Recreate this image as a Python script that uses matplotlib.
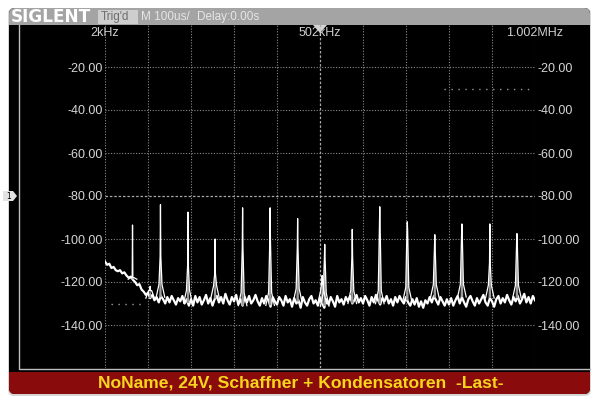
import numpy as np
import matplotlib
matplotlib.use("Agg")
import matplotlib.pyplot as plt
from matplotlib.patches import FancyBboxPatch, Rectangle, Polygon

# FFT trace of the scope, span 2 kHz .. 1.002 MHz, level in dBV
f_start, f_step = 2, 5
floor_db = [
    -110.5, -112, -111.5, -113.5, -113, -114.5, -115, -114.5, -116, -115.5,
    -117, -118, -117.5, -119, -120, -121.5, -121, -123.5, -124.5, -126,
    -125, -127.5, -126, -128.5, -127, -129.5, -126.5, -128, -130, -127,
    -129.5, -126.5, -128.5, -130.5, -127.5, -129, -126.5, -130, -128, -131,
    -128, -131, -126.5, -129.5, -127, -130.5, -128.5, -126, -130, -127.5,
    -131, -128, -126.5, -129.5, -127, -130, -125.5, -128.5, -130.5, -127,
    -129, -126, -130.5, -128, -131, -127, -129.5, -126.5, -130, -128.5,
    -126, -129, -131, -127.5, -130, -126.5, -128.5, -131.5, -127, -129,
    -130.5, -127, -128.5, -131, -126.5, -129.5, -128, -131.5, -127.5, -130,
    -128.5, -132, -127, -129.5, -131, -128, -126.5, -130, -128.5, -131,
    -127.5, -130, -132, -128, -130.5, -127, -129, -131.5, -126.5, -129.5,
    -128, -130.5, -127, -129, -126.5, -130, -128.5, -126, -129.5, -127.5,
    -130, -126.5, -128.5, -131, -127, -129.5, -126, -128.5, -130.5, -127.5,
    -129, -126.5, -130, -128, -131, -127, -129.5, -126.5, -128.5, -130,
    -127, -129.5, -131, -128, -130.5, -127.5, -131.5, -129, -132, -128.5,
    -130, -127, -129.5, -126.5, -128.5, -130.5, -127, -129, -131, -128,
    -130.5, -127.5, -131, -128.5, -126.5, -130, -127, -129.5, -131.5, -128,
    -126.5, -129, -131, -127.5, -130, -128, -126, -129.5, -131, -127.5,
    -129, -131.5, -128, -126.5, -130, -127.5, -129.5, -126, -128.5, -130.5,
    -127, -129, -126.5, -130, -128, -125.5, -129.5, -127, -130, -126.5, -128.5,
]
freq_khz = f_start + f_step * np.arange(len(floor_db))

# switching harmonics
peak_khz = [66, 107, 131, 195, 258, 322, 386, 450, 507, 513, 577, 641, 705, 769, 832, 897, 960]
peak_db = [-93.5, -122, -84, -87.5, -100, -85.5, -85.5, -90.5, -117, -102.5,
           -95.5, -85, -92, -98, -93, -93, -97.5]
skirt_db = [-118, -124, -108, -112, -116, -104, -101, -104, -120, -109,
            -108, -94, -96, -104, -98, -111, -102]

level_ticks = [-20, -40, -60, -80, -100, -120, -140]
freq_labels = [(2, "2kHz"), (502, "502kHz"), (1002, "1.002MHz")]
cursor_lines = [(-130, 16, 92), (-30, 790, 1000)]

W, H = 600, 403
fig = plt.figure(figsize=(W / 100, H / 100), dpi=100)
fig.patch.set_facecolor("white")

# ---- scope frame, drawn in pixel coordinates
bg = fig.add_axes([0, 0, 1, 1], zorder=0)
bg.set_xlim(0, W)
bg.set_ylim(H, 0)
bg.axis("off")

bg.add_patch(FancyBboxPatch((8, 8), 583, 388, boxstyle="round,pad=0,rounding_size=6",
                            fc="#d6d6d6", ec="none"))
bg.add_patch(FancyBboxPatch((9, 8), 581, 386, boxstyle="round,pad=0,rounding_size=6",
                            fc="black", ec="none"))
bg.add_patch(FancyBboxPatch((9, 8), 581, 24, boxstyle="round,pad=0,rounding_size=6",
                            fc="#a4a4a4", ec="none"))
bg.add_patch(FancyBboxPatch((9, 365), 581, 29, boxstyle="round,pad=0,rounding_size=6",
                            fc="#8a0b0b", ec="none"))
bg.add_patch(Rectangle((9, 25), 581, 347, fc="black", ec="none"))
bg.plot([18.5, 18.5, 590], [25, 368.5, 368.5], color="#bdbdbd", lw=1)

bg.text(11, 17, "SIGLENT", color="white", fontsize=12.2, fontweight="bold",
        family="DejaVu Sans", va="center", ha="left")
bg.add_patch(Rectangle((98, 10), 40, 14, fc="#cecece", ec="none"))
bg.text(101, 17, "Trig'd", color="#6e6e6e", fontsize=8.5, family="Liberation Sans",
        va="center", ha="left")
bg.text(141, 17, "M 100us/", color="#e6e6e6", fontsize=8.5, family="Liberation Sans",
        va="center", ha="left")
bg.text(197, 17, "Delay:0.00s", color="#e6e6e6", fontsize=8.5, family="Liberation Sans",
        va="center", ha="left")

bg.add_patch(Polygon([(3, 191), (13, 191), (17, 196), (13, 201), (3, 201)],
                     closed=True, fc="#e2e2e2", ec="none"))
bg.text(9, 196.5, "1", color="black", fontsize=5.5, ha="center", va="center")
bg.add_patch(Polygon([(313, 25), (327, 25), (320, 33)], closed=True, fc="#d4d4d4", ec="none"))

bg.text(301, 383, "NoName, 24V, Schaffner + Kondensatoren  -Last-", color="#f7d51d",
        fontsize=12.6, fontweight="bold", family="Liberation Sans", ha="center", va="center")

# ---- spectrum axes (grid area 105..535 px, 24..368 px)
ax = fig.add_axes([105 / W, (H - 368) / H, 430 / W, 344 / H], zorder=1)
ax.set_facecolor("none")
ax.set_xlim(2, 1002)
ax.set_ylim(-160, 0)
for s in ax.spines.values():
    s.set_visible(False)

for k in range(11):
    fx = 2 + 100 * k
    if fx == 502:
        ax.axvline(fx, color="#a8a8a8", lw=0.9, ls=(0, (2, 1.5)), zorder=1)
    else:
        ax.axvline(fx, color="#8a8a8a", lw=0.8, ls=(0, (1, 1.5)), zorder=1)
for lv in level_ticks:
    if lv == -80:
        ax.axhline(lv, color="#a8a8a8", lw=0.9, ls=(0, (2, 1.5)), zorder=1)
    else:
        ax.axhline(lv, color="#8a8a8a", lw=0.8, ls=(0, (1, 1.5)), zorder=1)

for lv, x0, x1 in cursor_lines:
    ax.plot([x0, x1], [lv, lv], color="#9a9a9a", lw=1.0, ls=(0, (1, 4)), zorder=1)

ax.set_xticks([])
ax.set_yticks(level_ticks)
ax.set_yticklabels([f"{v:.2f}" for v in level_ticks])
ax.tick_params(axis="y", length=0, pad=1.5, labelleft=True, labelright=True,
               labelcolor="#d6d6d6", labelsize=9)
for lab in ax.get_yticklabels():
    lab.set_family("Liberation Sans")

for fx, txt in freq_labels:
    ax.text(fx, 0.974, txt, transform=ax.get_xaxis_transform(), color="#cfcfcf",
            fontsize=9, family="Liberation Sans", ha="center", va="center")

# noise floor
ax.plot(freq_khz, floor_db, color="white", lw=1.6, zorder=3)

# spikes
for f, p, s in zip(peak_khz, peak_db, skirt_db):
    fl = np.interp(f, freq_khz, floor_db)
    base = min(fl + 6, s)
    ax.fill([f - 3, f - 0.8, f + 0.8, f + 3], [fl, s, s, fl], color="#9c9c9c", lw=0, zorder=3)
    ax.plot([f - 10, f - 3.5, f - 0.8, f, f + 0.8, f + 3.5, f + 10],
            [fl, base, s, p, s, base, fl], color="white", lw=0.9, zorder=4)

fig.savefig("out.png", dpi=100, facecolor=fig.get_facecolor())
